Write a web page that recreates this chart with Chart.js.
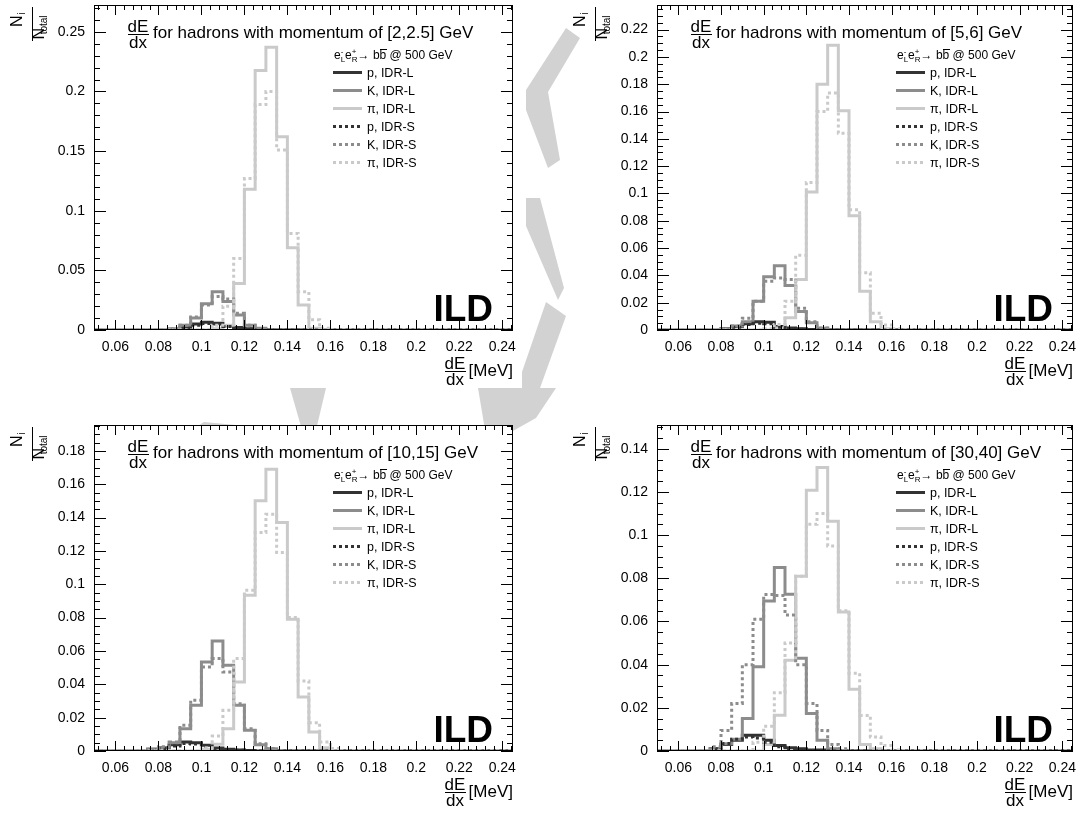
<!DOCTYPE html>
<html>
<head>
<meta charset="utf-8">
<script src="https://cdn.jsdelivr.net/npm/chart.js@4.4.1/dist/chart.umd.min.js"></script>
<style>
  html, body { margin: 0; padding: 0; background: #fff; }
  #page { position: relative; width: 1083px; height: 815px; overflow: hidden; }
  #watermark, .panel { position: absolute; }
</style>
</head>
<body>
<div id="page">
  <canvas id="watermark" width="1083" height="815" style="left:0;top:0"></canvas>
  <div class="panel" style="left:0;top:0"><canvas id="c1"></canvas></div>
  <div class="panel" style="left:563px;top:0"><canvas id="c2"></canvas></div>
  <div class="panel" style="left:0;top:420px"><canvas id="c3"></canvas></div>
  <div class="panel" style="left:563px;top:420px"><canvas id="c4"></canvas></div>
</div>
<script>
/* ---- binning ---- */
const X_MIN = 0.05, X_MAX = 0.245, BIN_WIDTH = 0.005;
const FIRST_BIN = 0.075;   // lower edge of the first stored bin, all other bins are empty
const xTicks = [0.06, 0.08, 0.1, 0.12, 0.14, 0.16, 0.18, 0.2, 0.22, 0.24];

const seriesNames = ["p, IDR-L", "K, IDR-L", "\u03c0, IDR-L", "p, IDR-S", "K, IDR-S", "\u03c0, IDR-S"];
const seriesColors = ["#333333", "#8c8c8c", "#cacaca", "#333333", "#8c8c8c", "#cacaca"];
const momentumRanges = ["[2,2.5]", "[5,6]", "[10,15]", "[30,40]"];

const yMax = [0.2725, 0.238, 0.1955, 0.151];
const yTicks1 = [0, 0.05, 0.1, 0.15, 0.2, 0.25];
const yTicks2 = [0, 0.02, 0.04, 0.06, 0.08, 0.1, 0.12, 0.14, 0.16, 0.18, 0.2, 0.22];
const yTicks3 = [0, 0.02, 0.04, 0.06, 0.08, 0.1, 0.12, 0.14, 0.16, 0.18];
const yTicks4 = [0, 0.02, 0.04, 0.06, 0.08, 0.1, 0.12, 0.14];
const yMinor = [0.01, 0.005, 0.005, 0.005];

/* ---- N_i/N_total per bin, bins 0.075 .. 0.165 ---- */
// [2,2.5] GeV
const pL1  = [0, 0, 0.0005, 0.002, 0.005, 0.0065, 0.0056, 0.0036, 0.002, 0.001, 0.0005, 0, 0, 0, 0, 0, 0, 0, 0];
const kL1  = [0, 0, 0.001, 0.004, 0.010, 0.022, 0.032, 0.024, 0.0125, 0.004, 0.0015, 0.0005, 0, 0, 0, 0, 0, 0, 0];
const piL1 = [0, 0, 0, 0, 0, 0, 0.001, 0.004, 0.039, 0.118, 0.2175, 0.237, 0.162, 0.069, 0.021, 0.0015, 0, 0, 0];
const pS1  = [0, 0, 0.0004, 0.0015, 0.004, 0.0055, 0.005, 0.003, 0.0015, 0.0008, 0.0003, 0, 0, 0, 0, 0, 0, 0, 0];
const kS1  = [0, 0, 0.001, 0.004, 0.011, 0.021, 0.028, 0.026, 0.014, 0.004, 0.001, 0.0003, 0, 0, 0, 0, 0, 0, 0];
const piS1 = [0, 0, 0, 0, 0, 0.0005, 0.004, 0.020, 0.060, 0.127, 0.189, 0.200, 0.151, 0.081, 0.032, 0.0085, 0.0015, 0, 0];
// [5,6] GeV
const pL2  = [0, 0.001, 0.0025, 0.0045, 0.006, 0.0057, 0.0025, 0.0015, 0.001, 0.0004, 0, 0, 0, 0, 0, 0, 0, 0, 0];
const kL2  = [0, 0.001, 0.003, 0.006, 0.021, 0.039, 0.047, 0.0325, 0.0135, 0.0054, 0.0012, 0, 0, 0, 0, 0, 0, 0, 0];
const piL2 = [0, 0, 0, 0, 0, 0, 0.0015, 0.009, 0.037, 0.101, 0.180, 0.2086, 0.1606, 0.0837, 0.0283, 0.006, 0.001, 0, 0];
const pS2  = [0, 0.0008, 0.002, 0.004, 0.005, 0.0045, 0.002, 0.001, 0.0005, 0, 0, 0, 0, 0, 0, 0, 0, 0, 0];
const kS2  = [0, 0.001, 0.003, 0.0086, 0.021, 0.0357, 0.038, 0.037, 0.016, 0.006, 0.0015, 0, 0, 0, 0, 0, 0, 0, 0];
const piS2 = [0, 0, 0, 0, 0, 0.001, 0.004, 0.021, 0.0547, 0.108, 0.160, 0.1736, 0.144, 0.088, 0.042, 0.0123, 0.0037, 0.001, 0];
// [10,15] GeV
const pL3  = [0.001, 0.002, 0.0038, 0.0054, 0.005, 0.0034, 0.0018, 0.001, 0.0006, 0.0003, 0, 0, 0, 0, 0, 0, 0, 0, 0];
const kL3  = [0.001, 0.002, 0.005, 0.0134, 0.0274, 0.0534, 0.066, 0.0514, 0.0274, 0.0124, 0.0038, 0.0014, 0, 0, 0, 0, 0, 0, 0];
const piL3 = [0, 0, 0, 0, 0, 0.001, 0.004, 0.0134, 0.0414, 0.0934, 0.150, 0.169, 0.137, 0.079, 0.0324, 0.0114, 0.002, 0, 0];
const pS3  = [0.0008, 0.0015, 0.003, 0.0045, 0.0042, 0.003, 0.0015, 0.0008, 0.0004, 0, 0, 0, 0, 0, 0, 0, 0, 0, 0];
const kS3  = [0.001, 0.0025, 0.0054, 0.0154, 0.0304, 0.0504, 0.0554, 0.0474, 0.0284, 0.0134, 0.0044, 0.0015, 0, 0, 0, 0, 0, 0, 0];
const piS3 = [0, 0, 0, 0, 0, 0.002, 0.009, 0.0244, 0.0554, 0.0964, 0.131, 0.142, 0.119, 0.080, 0.042, 0.017, 0.0054, 0.0015, 0];
// [30,40] GeV
const pL4  = [0.001, 0.003, 0.005, 0.0073, 0.0073, 0.005, 0.0026, 0.0015, 0.001, 0.0005, 0.0005, 0.0003, 0, 0, 0, 0, 0, 0, 0];
const kL4  = [0.001, 0.0034, 0.0055, 0.0151, 0.039, 0.0695, 0.085, 0.0726, 0.043, 0.0174, 0.005, 0.0011, 0, 0, 0, 0, 0, 0, 0];
const piL4 = [0, 0, 0, 0, 0, 0.003, 0.0166, 0.042, 0.081, 0.1208, 0.1313, 0.1064, 0.0644, 0.0286, 0.003, 0.001, 0, 0, 0];
const pS4  = [0.001, 0.0035, 0.0055, 0.0065, 0.006, 0.004, 0.002, 0.001, 0.0005, 0, 0, 0, 0, 0, 0, 0, 0, 0, 0];
const kS4  = [0.002, 0.0095, 0.022, 0.040, 0.061, 0.0725, 0.072, 0.063, 0.040, 0.022, 0.0095, 0.003, 0.001, 0, 0, 0, 0, 0, 0];
const piS4 = [0, 0, 0, 0, 0.004, 0.0115, 0.027, 0.050, 0.081, 0.105, 0.110, 0.095, 0.065, 0.036, 0.0165, 0.0065, 0.0025, 0.0005, 0];

const panels = [
  { id: "c1", w: 533, h: 392, yTicks: yTicks1, series: [pL1, kL1, piL1, pS1, kS1, piS1] },
  { id: "c2", w: 530, h: 392, yTicks: yTicks2, series: [pL2, kL2, piL2, pS2, kS2, piS2] },
  { id: "c3", w: 533, h: 393, yTicks: yTicks3, series: [pL3, kL3, piL3, pS3, kS3, piS3] },
  { id: "c4", w: 530, h: 393, yTicks: yTicks4, series: [pL4, kL4, piL4, pS4, kS4, piS4] }
];

const FONT = "'Liberation Sans', Arial, Helvetica, sans-serif";

// histogram outline: one point per bin lower edge + closing point at X_MAX
function histPoints(values) {
  const nBins = Math.round((X_MAX - X_MIN) / BIN_WIDTH);
  const offset = Math.round((FIRST_BIN - X_MIN) / BIN_WIDTH);
  const pts = [];
  for (let i = 0; i < nBins; i++) {
    const v = (i >= offset && i - offset < values.length) ? values[i - offset] : 0;
    pts.push({ x: +(X_MIN + i * BIN_WIDTH).toFixed(4), y: v });
  }
  pts.push({ x: X_MAX, y: pts[pts.length - 1].y });
  return pts;
}

function fmt(v) { return String(+v.toFixed(4)); }

/* ---- ROOT-style frame, inside ticks, titles, legend ---- */
function drawFraction(ctx, cx, top, num, den, size) {
  ctx.font = size + "px " + FONT;
  ctx.textAlign = "center";
  ctx.textBaseline = "alphabetic";
  const w = Math.max(ctx.measureText(num).width, ctx.measureText(den).width);
  ctx.fillText(num, cx, top + size * 0.74);
  ctx.fillRect(Math.round(cx - w / 2), Math.round(top + size * 0.9), Math.round(w), 1);
  ctx.fillText(den, cx, top + size * 1.72);
  return w;
}

function drawYTitle(ctx, a) {
  // N_i / N_total, rotated, at the top of the axis
  const bx = a.left - 62, by0 = a.top + 2, by1 = a.top + 36;
  ctx.fillStyle = "#000";
  ctx.fillRect(bx, by0, 1, by1 - by0);
  ctx.save();
  ctx.translate(bx - 10, a.top + 22);
  ctx.rotate(-Math.PI / 2);
  ctx.textAlign = "left"; ctx.textBaseline = "alphabetic";
  ctx.font = "16px " + FONT;
  ctx.fillText("N", 0, 0);
  const nw = ctx.measureText("N").width;
  ctx.font = "10px " + FONT;
  ctx.fillText("i", nw + 1, 3);
  ctx.restore();
  ctx.save();
  ctx.translate(bx + 12, a.top + 23);
  ctx.rotate(-Math.PI / 2);
  ctx.font = "16px " + FONT;
  ctx.fillText("N", 0, 0);
  ctx.font = "10px " + FONT;
  ctx.fillText("total", nw + 1, 3);
  ctx.restore();
}

function drawHeader(ctx, x, y) {
  // e-_L e+_R -> b bbar @ 500 GeV
  ctx.textAlign = "left"; ctx.textBaseline = "alphabetic";
  const big = "12px " + FONT, small = "8px " + FONT;
  let cx = x;
  const piece = (t, f, dy) => { ctx.font = f; ctx.fillText(t, cx, y + dy); return ctx.measureText(t).width; };
  let w = piece("e", big, 0); cx += w;
  piece("-", small, -5); cx += piece("L", small, 3);
  w = piece("e", big, 0); cx += w;
  piece("+", small, -5); cx += piece("R", small, 3);
  cx += piece("\u2192 b", big, 0);
  const bw = piece("b", big, 0);
  ctx.fillRect(Math.round(cx), Math.round(y - 10), Math.round(bw), 1);
  cx += bw;
  piece(" @ 500 GeV", big, 0);
}

const decorPlugin = {
  id: "rootDecor",
  beforeDraw(chart) {
    const { ctx, chartArea: a } = chart;
    ctx.save();
    ctx.fillStyle = "#fff";
    ctx.fillRect(a.left, a.top, a.width, a.height);
    ctx.restore();
  },
  afterDraw(chart, args, o) {
    const { ctx, chartArea: a, scales: { x, y } } = chart;
    ctx.save();
    ctx.strokeStyle = "#000";
    ctx.fillStyle = "#000";
    ctx.lineWidth = 1;
    ctx.strokeRect(Math.round(a.left) + 0.5, Math.round(a.top) + 0.5,
                   Math.round(a.width) - 1, Math.round(a.height) - 1);

    ctx.beginPath();
    // x ticks, bottom and top
    const xMinor = 0.004, xMajor = 0.02;
    for (let k = Math.ceil(X_MIN / xMinor - 1e-6); k * xMinor <= X_MAX + 1e-9; k++) {
      const v = k * xMinor;
      const major = Math.abs(v / xMajor - Math.round(v / xMajor)) < 1e-6;
      const len = major ? 10 : 5;
      const px = Math.round(x.getPixelForValue(v)) + 0.5;
      ctx.moveTo(px, a.bottom); ctx.lineTo(px, a.bottom - len);
      ctx.moveTo(px, a.top); ctx.lineTo(px, a.top + len);
    }
    // y ticks, left and right
    const ym = o.yMinor, yM = o.yTicks[1];
    for (let k = 0; k * ym <= y.max + 1e-9; k++) {
      const v = k * ym;
      const major = Math.abs(v / yM - Math.round(v / yM)) < 1e-6;
      const len = major ? 12 : 6;
      const py = Math.round(y.getPixelForValue(v)) + 0.5;
      ctx.moveTo(a.left, py); ctx.lineTo(a.left + len, py);
      ctx.moveTo(a.right, py); ctx.lineTo(a.right - len, py);
    }
    ctx.stroke();

    // title inside the frame
    drawFraction(ctx, a.left + 44, a.top + 14, "dE", "dx", 17);
    ctx.font = "17px " + FONT;
    ctx.textAlign = "left";
    ctx.fillText("for hadrons with momentum of " + o.range + " GeV", a.left + 59, a.top + 33);

    // legend
    drawHeader(ctx, a.left + 240, a.top + 54);
    seriesNames.forEach((name, i) => {
      const ly = Math.round(a.top + 67 + i * 17.9) + 0.5;
      ctx.save();
      ctx.strokeStyle = seriesColors[i];
      ctx.lineWidth = 3;
      ctx.setLineDash(i >= 3 ? [3, 3] : []);
      ctx.beginPath(); ctx.moveTo(a.left + 239, ly); ctx.lineTo(a.left + 268, ly); ctx.stroke();
      ctx.restore();
      ctx.font = "12.5px " + FONT;
      ctx.textAlign = "left";
      ctx.fillText(name, a.left + 273, ly + 4.5);
    });

    // ILD label
    ctx.font = "bold 37px " + FONT;
    ctx.textAlign = "right";
    ctx.fillText("ILD", a.right - 20, a.bottom - 9);

    // axis titles
    drawYTitle(ctx, a);
    drawFraction(ctx, a.right - 58, a.bottom + 26, "dE", "dx", 17);
    ctx.font = "17px " + FONT;
    ctx.textAlign = "right";
    ctx.fillText("[MeV]", a.right, a.bottom + 46);
    ctx.restore();
  }
};

panels.forEach((p, n) => {
  const canvas = document.getElementById(p.id);
  canvas.width = p.w; canvas.height = p.h;
  canvas.style.width = p.w + "px"; canvas.style.height = p.h + "px";

  const datasets = p.series.map((vals, i) => ({
    label: seriesNames[i],
    data: histPoints(vals),
    borderColor: seriesColors[i],
    borderWidth: 3,
    borderDash: i >= 3 ? [3, 3] : [],
    stepped: "before",
    fill: false,
    pointRadius: 0,
    tension: 0,
    order: 6 - i
  }));

  new Chart(canvas.getContext("2d"), {
    type: "line",
    data: { datasets },
    options: {
      responsive: false,
      animation: false,
      events: [],
      layout: { padding: { top: 5, right: 20, left: 0, bottom: 0 } },
      plugins: {
        legend: { display: false },
        tooltip: { enabled: false },
        rootDecor: { yTicks: p.yTicks, yMinor: yMinor[n], range: momentumRanges[n] }
      },
      scales: {
        x: {
          type: "linear",
          min: X_MIN, max: X_MAX,
          afterBuildTicks: s => { s.ticks = xTicks.map(v => ({ value: v })); },
          afterFit: s => { s.height = 62; s.paddingLeft = 0; s.paddingRight = 0; },
          grid: { display: false, drawTicks: false },
          border: { display: false },
          ticks: { color: "#000", font: { family: FONT, size: 14 }, padding: 9,
                   maxRotation: 0, autoSkip: false, callback: v => fmt(v) }
        },
        y: {
          type: "linear",
          min: 0, max: yMax[n],
          afterBuildTicks: s => { s.ticks = p.yTicks.map(v => ({ value: v })); },
          afterFit: s => { s.width = 94; s.paddingTop = 0; s.paddingBottom = 0; },
          grid: { display: false, drawTicks: false },
          border: { display: false },
          ticks: { color: "#000", font: { family: FONT, size: 14 }, padding: 9,
                   autoSkip: false, callback: v => fmt(v) }
        }
      }
    },
    plugins: [decorPlugin]
  });
});

/* ---- light grey watermark strokes visible between the pads ---- */
(function () {
  const ctx = document.getElementById("watermark").getContext("2d");
  ctx.fillStyle = "#d2d2d2";
  const shapes = [
    [[566, 28], [580, 38], [548, 92], [560, 160], [548, 168], [526, 110], [526, 90]],
    [[526, 198], [540, 198], [564, 288], [558, 300], [526, 226]],
    [[546, 302], [566, 316], [540, 388], [522, 388], [522, 372]],
    [[176, 440], [204, 422], [246, 426], [256, 440]],
    [[290, 388], [326, 388], [316, 430], [302, 430]],
    [[478, 388], [556, 388], [536, 418], [504, 436], [486, 436]]
  ];
  shapes.forEach(s => {
    ctx.beginPath();
    s.forEach(([px, py], i) => i ? ctx.lineTo(px, py) : ctx.moveTo(px, py));
    ctx.closePath(); ctx.fill();
  });
})();
</script>
</body>
</html>
